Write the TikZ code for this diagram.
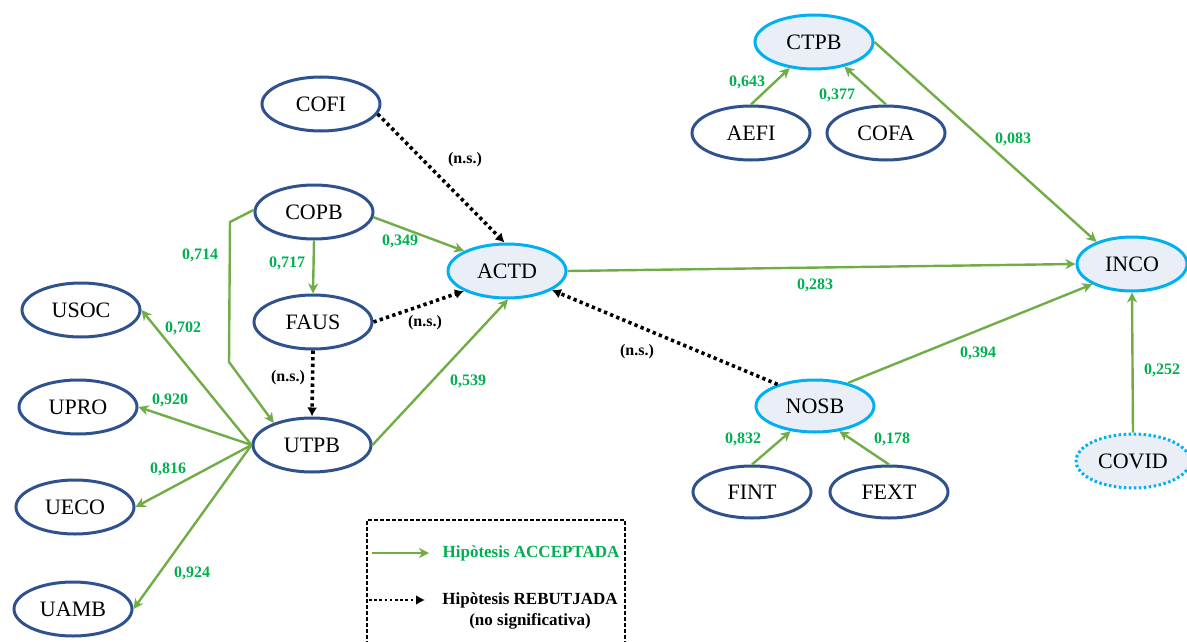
\documentclass[tikz,border=0pt]{standalone}
\usepackage{fontspec}
\setmainfont{Liberation Serif}
\usetikzlibrary{shapes.geometric,arrows.meta}
\definecolor{dblue}{RGB}{47,82,143}
\definecolor{cyanb}{RGB}{0,176,240}
\definecolor{lfill}{RGB}{233,238,247}
\definecolor{lgreen}{RGB}{112,173,71}
\definecolor{tgreen}{RGB}{0,176,80}
\tikzset{
  lat/.style={ellipse, draw=dblue, line width=3pt, fill=white, inner sep=0pt,
    minimum width=118pt, minimum height=54pt, font=\fontsize{22}{24}\selectfont},
  hil/.style={lat, draw=cyanb, fill=lfill},
  covid/.style={hil, dash pattern=on 2.5pt off 2.5pt},
  acc/.style={draw=lgreen, line width=2.4pt, -{Stealth[length=10pt,width=10pt,inset=3pt]}},
  rej/.style={draw=black, line width=3.6pt, dash pattern=on 3.3pt off 3.3pt, -{Latex[length=9pt,width=10pt]}},
  val/.style={font=\bfseries\fontsize{16}{18}\selectfont, text=tgreen, inner sep=1pt},
  ns/.style={font=\bfseries\fontsize{16}{18}\selectfont, text=black, inner sep=1pt},
  leg/.style={font=\bfseries\fontsize{17}{19}\selectfont, inner sep=1pt}
}
\begin{document}
\begin{tikzpicture}[x=1pt,y=-1pt]
\useasboundingbox (0,0) rectangle (1187,642);
% nodes
\node[lat] (COFI) at (321,104) {COFI};
\node[lat] (COPB) at (314,212) {COPB};
\node[lat] (FAUS) at (313,322) {FAUS};
\node[lat] (UTPB) at (312,445) {UTPB};
\node[lat] (USOC) at (81,310) {USOC};
\node[lat] (UPRO) at (78,407) {UPRO};
\node[lat] (UECO) at (75,507) {UECO};
\node[lat] (UAMB) at (73,609) {UAMB};
\node[hil] (ACTD) at (507,271) {ACTD};
\node[hil] (CTPB) at (814,42) {CTPB};
\node[lat] (AEFI) at (751,133) {AEFI};
\node[lat] (COFA) at (886,133) {COFA};
\node[hil, minimum width=110pt] (INCO) at (1132,264) {INCO};
\node[covid, minimum width=114pt] (COVID) at (1133,461) {COVID};
\node[hil, minimum height=52pt] (NOSB) at (815,406) {NOSB};
\node[lat, minimum height=52pt] (FINT) at (752,492) {FINT};
\node[lat, minimum height=52pt] (FEXT) at (889,492) {FEXT};
% connectors
\draw[rej] (COFI.-10) -- (ACTD.95);
\draw[acc] (COPB.-5) -- (ACTD.155);
\draw[acc] (COPB.south) -- (FAUS.north);
\draw[acc] (COPB.178) -- (230,222) -- (229,362) -- (UTPB.150);
\draw[rej] (FAUS.east) -- (ACTD.205);
\draw[rej] (FAUS.south) -- (UTPB.north);
\draw[acc] (UTPB.east) -- (ACTD.-88);
\draw[acc] (UTPB.west) -- (USOC.east);
\draw[acc] (UTPB.west) -- (UPRO.east);
\draw[acc] (UTPB.west) -- (UECO.east);
\draw[acc] (UTPB.west) -- (UAMB.east);
\draw[acc] (ACTD.east) -- (INCO.west);
\draw[rej] (NOSB.150) -- (ACTD.-23);
\draw[acc] (NOSB.35) -- (INCO.207);
\draw[acc] (CTPB.east) -- (INCO.148);
\draw[acc] (AEFI.north) -- (CTPB.227);
\draw[acc] (COFA.north) -- (CTPB.-39);
\draw[acc] (FINT.north) -- (NOSB.226);
\draw[acc] (FEXT.north) -- (NOSB.-46);
\draw[acc] (COVID.north) -- (INCO.south);
% labels
\node[ns] (l1) at (465,160) {(n.s.)};
\node[val] (l2) at (400,241) {0,349};
\node[val] (l3) at (287,263) {0,717};
\node[val] (l4) at (200,255) {0,714};
\node[ns] (l5) at (425,323) {(n.s.)};
\node[ns] (l6) at (288,378) {(n.s.)};
\node[val] (l7) at (468,381) {0,539};
\node[val] (l8) at (183,328) {0,702};
\node[val] (l9) at (170,400) {0,920};
\node[val] (l10) at (168,469) {0,816};
\node[val] (l11) at (192,573) {0,924};
\node[val] (l12) at (815,285) {0,283};
\node[ns] (l13) at (637,352) {(n.s.)};
\node[val] (l14) at (978,353) {0,394};
\node[val] (l15) at (1013,139) {0,083};
\node[val] (l16) at (747,82) {0,643};
\node[val] (l17) at (837,95) {0,377};
\node[val] (l18) at (743,439) {0,832};
\node[val] (l19) at (892,439) {0,178};
\node[val] (l20) at (1162,370) {0,252};
% legend
\draw[black, line width=1.3pt, dash pattern=on 4pt off 2pt] (367,645) -- (367,520) -- (625,520) -- (625,645);
\coordinate (ga) at (372,553);
\coordinate (gb) at (429,553);
\coordinate (ra) at (369,600);
\coordinate (rb) at (425,600);
\draw[acc] (ga) -- (gb);
\draw[rej, line width=2.8pt, dash pattern=on 2.6pt off 2.6pt] (ra) -- (rb);
\node[leg, text=tgreen] (t1) at (531,553) {Hipòtesis ACCEPTADA};
\node[leg] (t2) at (530,600) {Hipòtesis REBUTJADA};
\node[leg] (t3) at (530,621) {(no significativa)};
\end{tikzpicture}
\end{document}
